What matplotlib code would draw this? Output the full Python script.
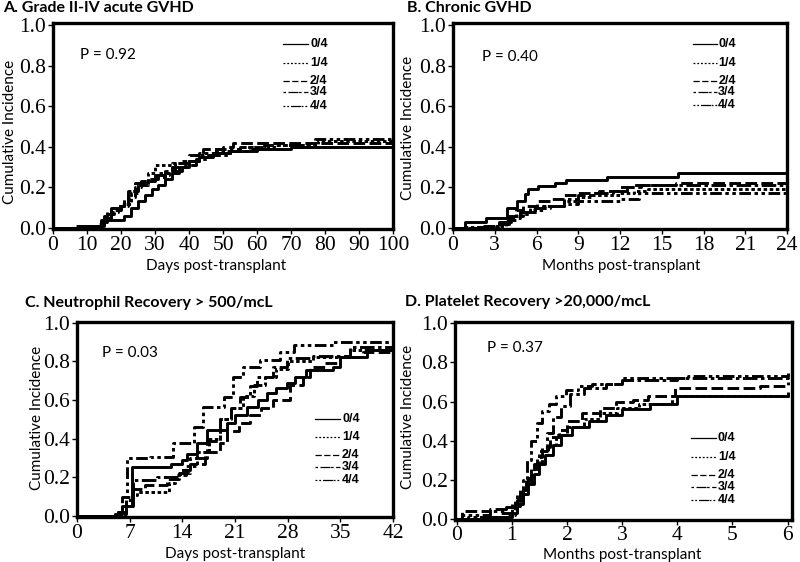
import matplotlib
matplotlib.use("Agg")
import matplotlib.pyplot as plt
from matplotlib.lines import Line2D

# ---------------- data ----------------
groups = ["0/4", "1/4", "2/4", "3/4", "4/4"]

# Panel A: Grade II-IV acute GVHD (days)
a_t0 = [0, 8, 14, 21, 23, 25, 27, 29, 31, 33, 35, 37, 40, 43, 47, 52, 60, 70, 80, 100]
a_v0 = [0, 0.01, 0.04, 0.06, 0.10, 0.13, 0.16, 0.19, 0.21, 0.24, 0.27, 0.30, 0.33, 0.35, 0.37, 0.38, 0.39, 0.40, 0.40, 0.40]
a_t1 = [0, 10, 14, 16, 18, 21, 23, 25, 28, 30, 35, 38, 42, 48, 55, 65, 78, 100]
a_v1 = [0, 0.01, 0.03, 0.07, 0.10, 0.12, 0.17, 0.21, 0.27, 0.31, 0.32, 0.33, 0.36, 0.38, 0.40, 0.41, 0.43, 0.43]
a_t2 = [0, 12, 15, 17, 20, 22, 24, 26, 30, 33, 36, 40, 44, 50, 53, 100]
a_v2 = [0, 0.01, 0.05, 0.09, 0.11, 0.15, 0.20, 0.23, 0.25, 0.28, 0.32, 0.36, 0.39, 0.40, 0.42, 0.42]
a_t3 = [0, 6, 13, 15, 17, 20, 22, 24, 27, 30, 34, 38, 42, 46, 52, 58, 70, 100]
a_v3 = [0, 0.01, 0.02, 0.06, 0.10, 0.12, 0.18, 0.22, 0.23, 0.26, 0.28, 0.31, 0.34, 0.36, 0.38, 0.39, 0.40, 0.40]
a_t4 = [0, 10, 14, 16, 19, 21, 23, 25, 28, 31, 35, 39, 43, 48, 55, 62, 77, 100]
a_v4 = [0, 0.01, 0.03, 0.08, 0.11, 0.14, 0.18, 0.21, 0.24, 0.27, 0.30, 0.33, 0.37, 0.39, 0.40, 0.41, 0.44, 0.44]

# Panel B: Chronic GVHD (months)
b_t0 = [0, 0.85, 2.37, 3.9, 4.6, 5.2, 5.4, 6.1, 7.3, 8.1, 11.06, 16.2, 24]
b_v0 = [0, 0.028, 0.05, 0.10, 0.13, 0.165, 0.19, 0.207, 0.223, 0.235, 0.251, 0.27, 0.27]
b_t1 = [0, 1, 3.2, 3.8, 4.5, 5.5, 6.5, 8, 9, 10, 12, 13, 14, 24]
b_v1 = [0, 0.005, 0.01, 0.04, 0.07, 0.09, 0.11, 0.13, 0.15, 0.16, 0.17, 0.18, 0.19, 0.19]
b_t2 = [0, 2, 3.3, 4, 4.5, 5, 6, 7, 8, 9, 10.5, 12, 13, 16, 24]
b_v2 = [0, 0.01, 0.03, 0.06, 0.09, 0.11, 0.13, 0.14, 0.16, 0.17, 0.18, 0.20, 0.21, 0.22, 0.22]
b_t3 = [0, 1.5, 3.4, 4, 4.8, 5.5, 6.5, 8, 9, 10, 11.5, 12.5, 13.5, 24]
b_v3 = [0, 0.005, 0.02, 0.05, 0.08, 0.10, 0.11, 0.14, 0.16, 0.17, 0.18, 0.20, 0.21, 0.21]
b_t4 = [0, 2.5, 3.5, 4.2, 5, 6, 7, 8, 9, 12, 13.4, 24]
b_v4 = [0, 0.01, 0.03, 0.06, 0.08, 0.10, 0.11, 0.12, 0.13, 0.14, 0.17, 0.17]

# Panel C: Neutrophil recovery (days)
c_t0 = [0, 5, 6, 7.3, 12.5, 14, 14.6, 16, 17.3, 19.9, 21, 22.6, 24, 25.2, 26.5, 27.9, 29, 30.5, 34, 35, 38.5, 42]
c_v0 = [0, 0.01, 0.05, 0.255, 0.27, 0.29, 0.32, 0.38, 0.445, 0.48, 0.52, 0.566, 0.60, 0.634, 0.66, 0.686, 0.72, 0.755, 0.77, 0.82, 0.86, 0.88]
c_t1 = [0, 5.5, 6.5, 7.5, 8, 12.2, 13, 14.5, 16, 17.5, 19, 20.5, 22, 23.5, 25, 26.5, 28, 31.4, 36.3, 42]
c_v1 = [0, 0.02, 0.08, 0.11, 0.126, 0.17, 0.21, 0.26, 0.33, 0.40, 0.50, 0.56, 0.62, 0.68, 0.72, 0.76, 0.80, 0.82, 0.86, 0.89]
c_t2 = [0, 5.5, 6.5, 7.5, 9, 12, 13.5, 15, 17, 19, 20, 21.5, 23, 24.5, 26, 28.3, 30, 31, 33, 35, 38, 42]
c_v2 = [0, 0.01, 0.05, 0.14, 0.16, 0.19, 0.22, 0.27, 0.33, 0.38, 0.44, 0.48, 0.52, 0.56, 0.60, 0.68, 0.72, 0.77, 0.79, 0.82, 0.85, 0.87]
c_t3 = [0, 5.5, 6.5, 7.5, 10.6, 13.7, 15, 17.3, 19, 20.5, 21.7, 23, 23.9, 26.1, 27.9, 31.4, 36.3, 42]
c_v3 = [0, 0.02, 0.10, 0.186, 0.20, 0.24, 0.30, 0.39, 0.50, 0.56, 0.617, 0.67, 0.72, 0.77, 0.815, 0.83, 0.876, 0.89]
c_t4 = [0, 5, 6, 6.6, 9.7, 12.8, 15.5, 16.8, 19.5, 20.8, 22.1, 24.3, 27, 28.8, 34, 42]
c_v4 = [0, 0.02, 0.10, 0.30, 0.307, 0.376, 0.46, 0.566, 0.617, 0.72, 0.77, 0.807, 0.85, 0.885, 0.90, 0.91]

# Panel D: Platelet recovery (months)
d_t0 = [0, 0.6, 1.0, 1.1, 1.2, 1.3, 1.4, 1.5, 1.6, 1.75, 1.9, 2.1, 2.4, 2.7, 3.0, 3.5, 4.0, 6]
d_v0 = [0, 0.01, 0.03, 0.08, 0.13, 0.18, 0.23, 0.28, 0.33, 0.38, 0.43, 0.47, 0.50, 0.53, 0.56, 0.59, 0.63, 0.65]
d_t1 = [0, 0.3, 0.9, 1.05, 1.15, 1.25, 1.35, 1.45, 1.55, 1.65, 1.8, 2.0, 2.3, 2.6, 2.9, 3.3, 3.9, 6]
d_v1 = [0, 0.01, 0.02, 0.07, 0.13, 0.18, 0.23, 0.28, 0.33, 0.38, 0.43, 0.47, 0.51, 0.54, 0.57, 0.59, 0.63, 0.64]
d_t2 = [0, 0.1, 0.6, 0.95, 1.05, 1.15, 1.25, 1.35, 1.45, 1.55, 1.7, 1.86, 2.0, 2.28, 2.6, 2.88, 3.2, 3.47, 3.95, 4.5, 5.5, 6]
d_v2 = [0, 0.04, 0.05, 0.06, 0.10, 0.15, 0.20, 0.26, 0.32, 0.37, 0.42, 0.455, 0.50, 0.54, 0.57, 0.60, 0.61, 0.63, 0.668, 0.67, 0.68, 0.70]
d_t3 = [0, 0.2, 0.8, 1.0, 1.1, 1.2, 1.3, 1.4, 1.5, 1.63, 1.75, 1.9, 2.05, 2.3, 2.7, 3.0, 4.0, 6]
d_v3 = [0, 0.01, 0.03, 0.05, 0.10, 0.15, 0.21, 0.28, 0.35, 0.44, 0.52, 0.58, 0.64, 0.67, 0.69, 0.71, 0.72, 0.73]
d_t4 = [0, 0.1, 0.6, 0.9, 1.0, 1.1, 1.2, 1.27, 1.35, 1.45, 1.55, 1.68, 1.8, 1.98, 2.2, 2.45, 3.0, 4.2, 6]
d_v4 = [0, 0.02, 0.04, 0.06, 0.08, 0.13, 0.20, 0.30, 0.40, 0.49, 0.55, 0.59, 0.63, 0.66, 0.68, 0.69, 0.72, 0.73, 0.745]

titles = ["A. Grade II-IV acute GVHD", "B. Chronic GVHD",
          "C. Neutrophil Recovery > 500/mcL", "D. Platelet Recovery >20,000/mcL"]
pvals = ["P = 0.92", "P = 0.40", "P = 0.03", "P = 0.37"]
xlabels = ["Days post-transplant", "Months post-transplant",
           "Days post-transplant", "Months post-transplant"]
xticks_a = [0, 10, 20, 30, 40, 50, 60, 70, 80, 90, 100]
xticks_b = [0, 3, 6, 9, 12, 15, 18, 21, 24]
xticks_c = [0, 7, 14, 21, 28, 35, 42]
xticks_d = [0, 1, 2, 3, 4, 5, 6]
yticks = [0.0, 0.2, 0.4, 0.6, 0.8, 1.0]

# ---------------- styling ----------------
styles = ["-", (0, (1.2, 0.9)), (0, (4, 1.5)), (0, (5, 1.2, 1.2, 1.2)),
          (0, (4, 1.2, 1.2, 1.2, 1.2, 1.2))]
leg_styles = ["-", (0, (1.5, 1.5)), (0, (5, 2)), (0, (2, 2, 8, 0.5)),
              (0, (1.5, 1.5, 1.5, 1.5, 8, 0.5))]

SANS = ["Lato", "DejaVu Sans"]
SERIF = ["Liberation Serif", "DejaVu Serif"]
LEGF = ["Liberation Sans", "DejaVu Sans"]

fig = plt.figure(figsize=(8.0, 5.62), dpi=100)

W, H = 800.0, 562.0
def box(l, r, t, b):
    return [l / W, 1 - b / H, (r - l) / W, (b - t) / H]

panels = [
    dict(rect=box(53, 393, 23.3, 229.3), xlim=(0, 100), ylim=(-0.007, 1.008), xt=xticks_a,
         series=[(a_t0, a_v0), (a_t1, a_v1), (a_t2, a_v2), (a_t3, a_v3), (a_t4, a_v4)],
         leg_x=(0.676, 0.750, 0.756), leg_y=[0.90, 0.807, 0.720, 0.666, 0.598],
         p=(0.079, 0.846), ylab=(-0.126, 0.474), xlab=(0.48, -0.178),
         title=(3, 8)),
    dict(rect=box(453, 787, 23.3, 229.3), xlim=(0, 24), ylim=(-0.007, 1.008), xt=xticks_b,
         series=[(b_t0, b_v0), (b_t1, b_v1), (b_t2, b_v2), (b_t3, b_v3), (b_t4, b_v4)],
         leg_x=(0.718, 0.790, 0.794), leg_y=[0.90, 0.806, 0.720, 0.668, 0.603],
         p=(0.086, 0.838), ylab=(-0.135, 0.494), xlab=(0.505, -0.18),
         title=(407, 8)),
    dict(rect=box(77, 393, 321.7, 517.3), xlim=(0, 42), ylim=(-0.007, 1.005), xt=xticks_c,
         series=[(c_t0, c_v0), (c_t1, c_v1), (c_t2, c_v2), (c_t3, c_v3), (c_t4, c_v4)],
         leg_x=(0.753, 0.832, 0.839), leg_y=[0.501, 0.409, 0.318, 0.259, 0.191],
         p=(0.078, 0.838), ylab=(-0.128, 0.51), xlab=(0.50, -0.188),
         title=(25, 303)),
    dict(rect=box(455, 792, 322.3, 520), xlim=(-0.03, 6.08), ylim=(-0.004, 1.005), xt=xticks_d,
         series=[(d_t0, d_v0), (d_t1, d_v1), (d_t2, d_v2), (d_t3, d_v3), (d_t4, d_v4)],
         leg_x=(0.700, 0.774, 0.780), leg_y=[0.413, 0.320, 0.228, 0.168, 0.101],
         p=(0.094, 0.869), ylab=(-0.139, 0.52), xlab=(0.495, -0.178),
         title=(405, 302)),
]

for i, pn in enumerate(panels):
    ax = fig.add_axes(pn["rect"])
    for k, (t, v) in enumerate(pn["series"]):
        ax.step(t, v, where="post", color="black", lw=2.1, linestyle=styles[k],
                solid_capstyle="butt", dash_capstyle="butt")
    ax.set_xlim(*pn["xlim"])
    ax.set_ylim(*pn["ylim"])
    ax.set_xticks(pn["xt"])
    ax.set_yticks(yticks)
    ax.set_yticklabels([f"{y:.1f}" for y in yticks])
    ax.set_xticklabels([str(x) for x in pn["xt"]])
    for lab in ax.get_xticklabels() + ax.get_yticklabels():
        lab.set_fontfamily(SERIF)
        lab.set_fontsize(15.5)
    ax.tick_params(direction="out", length=3.5, width=1.0, pad=1.5, colors="black")
    ax.tick_params(axis="x", pad=1)
    for s in ax.spines.values():
        s.set_linewidth(2.4)
        s.set_color("black")
    ax.set_ylabel("Cumulative Incidence", family=SANS, fontsize=11, va="center")
    ax.yaxis.set_label_coords(*pn["ylab"])
    ax.set_xlabel(xlabels[i], family=SANS, fontsize=11, va="center")
    ax.xaxis.set_label_coords(*pn["xlab"])
    ax.text(pn["p"][0], pn["p"][1], pvals[i], transform=ax.transAxes, family=SANS,
            fontsize=11, va="center", ha="left")
    x0, x1, xt = pn["leg_x"]
    for k, g in enumerate(groups):
        yy = pn["leg_y"][k]
        ax.add_line(Line2D([x0, x1], [yy, yy], transform=ax.transAxes, color="black",
                           lw=0.9, linestyle=leg_styles[k]))
        ax.text(xt, yy, g, transform=ax.transAxes, family=LEGF, fontweight="bold",
                fontsize=9, va="center", ha="left")
    tx, ty = pn["title"]
    fig.text(tx / W, 1 - ty / H, titles[i], family=SANS, fontweight="bold",
             fontsize=11.5, va="center", ha="left")

fig.savefig("out.png", dpi=100, facecolor="white")
